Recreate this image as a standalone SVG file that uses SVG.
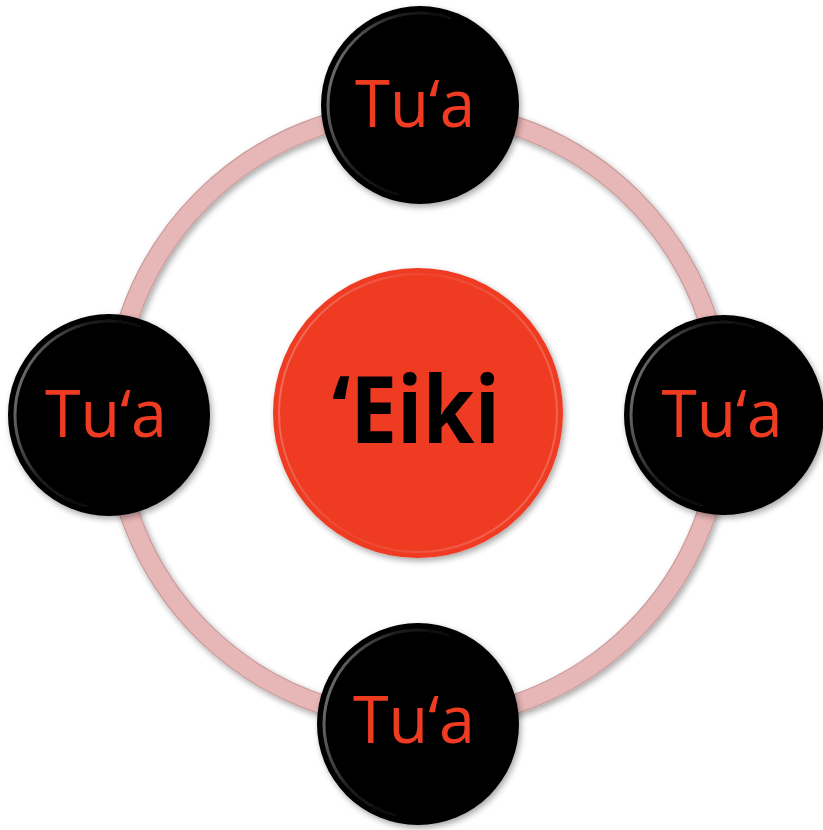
<svg xmlns="http://www.w3.org/2000/svg" width="823" height="830" viewBox="0 0 823 830">
<defs>
<filter id="sh" x="-20%" y="-20%" width="140%" height="140%">
<feGaussianBlur in="SourceAlpha" stdDeviation="3"/>
<feOffset dx="2" dy="3" result="b"/>
<feComponentTransfer><feFuncA type="linear" slope="0.35"/></feComponentTransfer>
<feMerge><feMergeNode/><feMergeNode in="SourceGraphic"/></feMerge>
</filter>
<linearGradient id="gl" x1="0" y1="0" x2="1" y2="0.3">
<stop offset="0" stop-color="#ffffff" stop-opacity="0.55"/>
<stop offset="0.35" stop-color="#ffffff" stop-opacity="0.12"/>
<stop offset="0.7" stop-color="#ffffff" stop-opacity="0"/>
</linearGradient>
<linearGradient id="gr" x1="0" y1="0" x2="1" y2="0.3">
<stop offset="0" stop-color="#ffffff" stop-opacity="0.3"/>
<stop offset="0.5" stop-color="#ffffff" stop-opacity="0.05"/>
<stop offset="1" stop-color="#ffffff" stop-opacity="0.2"/>
</linearGradient>
<style>
.ring{fill:none;stroke:#e7b6b6;stroke-width:19}
.ringe{fill:none;stroke:#c99c9c;stroke-width:1.2}
.tua{fill:#000}
.hl{fill:none;stroke:url(#gl);stroke-width:3}
.lbl{font-family:"Open Sans","Liberation Sans",sans-serif;font-size:66px;fill:#ee3b24;text-anchor:middle}
.main{font-family:"Open Sans","Liberation Sans",sans-serif;font-size:94px;font-weight:bold;fill:#000;text-anchor:middle}
</style>
</defs>
<rect width="823" height="830" fill="#fff"/>
<g id="connectors" filter="url(#sh)">
<circle class="ring" cx="418" cy="415" r="305"/>
<circle class="ringe" cx="418" cy="415" r="314.5"/>
<circle class="ringe" cx="418" cy="415" r="295.5"/>
</g>
<g id="center" filter="url(#sh)">
<circle cx="418" cy="413" r="145" fill="#ee3b24"/>
<circle cx="418" cy="413" r="139" fill="none" stroke="url(#gr)" stroke-width="2"/>
<text class="main" x="416" y="443" textLength="168" lengthAdjust="spacingAndGlyphs">‘Eiki</text>
</g>
<g id="node-top" filter="url(#sh)">
<circle class="tua" cx="420" cy="105" r="99"/>
<circle class="hl" cx="420" cy="105" r="92"/>
<text class="lbl" x="415" y="127" textLength="120" lengthAdjust="spacingAndGlyphs">Tu‘a</text>
</g>
<g id="node-left" filter="url(#sh)">
<circle class="tua" cx="109" cy="415" r="101"/>
<circle class="hl" cx="109" cy="415" r="94"/>
<text class="lbl" x="106" y="437" textLength="122" lengthAdjust="spacingAndGlyphs">Tu‘a</text>
</g>
<g id="node-right" filter="url(#sh)">
<circle class="tua" cx="724" cy="415" r="100"/>
<circle class="hl" cx="724" cy="415" r="93"/>
<text class="lbl" x="722" y="437" textLength="121" lengthAdjust="spacingAndGlyphs">Tu‘a</text>
</g>
<g id="node-bottom" filter="url(#sh)">
<circle class="tua" cx="418" cy="724" r="101"/>
<circle class="hl" cx="418" cy="724" r="94"/>
<text class="lbl" x="414" y="743" textLength="122" lengthAdjust="spacingAndGlyphs">Tu‘a</text>
</g>
</svg>
